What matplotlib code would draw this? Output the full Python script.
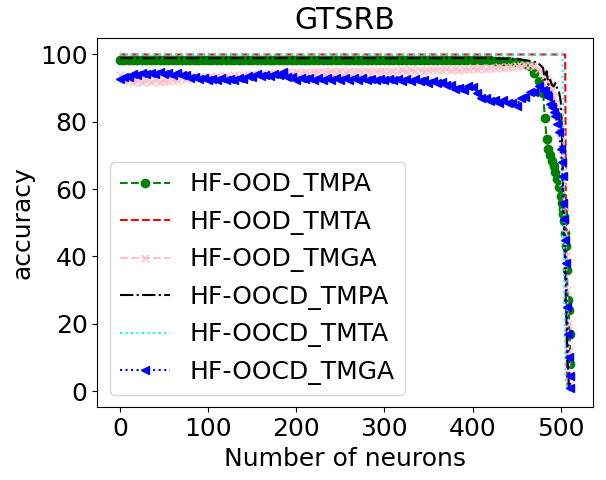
import numpy as np
import matplotlib
matplotlib.use('Agg')
import matplotlib.pyplot as plt

plt.rcParams['font.size'] = 18

# neurons: every 5 up to 475, every 2 up to 498, then every neuron to 511
neurons = list(range(0, 480, 5)) + list(range(480, 500, 2)) + list(range(500, 512))

ood_tmpa = [
    98.5, 98.4, 98.4, 98.5, 98.4, 98.4, 98.4, 98.5, 98.4, 98.4,
    98.4, 98.5, 98.4, 98.4, 98.4, 98.5, 98.4, 98.4, 98.4, 98.4,
    98.5, 98.4, 98.4, 98.4, 98.5, 98.4, 98.4, 98.4, 98.4, 98.5,
    98.4, 98.4, 98.4, 98.5, 98.4, 98.4, 98.4, 98.4, 98.5, 98.4,
    98.4, 98.4, 98.5, 98.4, 98.4, 98.4, 98.4, 98.5, 98.4, 98.4,
    98.4, 98.5, 98.4, 98.4, 98.4, 98.4, 98.5, 98.4, 98.4, 98.4,
    98.4, 98.4, 98.5, 98.4, 98.4, 98.4, 98.4, 98.4, 98.5, 98.4,
    98.4, 98.4, 98.4, 98.4, 98.4, 98.5, 98.4, 98.4, 98.4, 98.4,
    98.4, 98.4, 98.3, 98.3, 98.3, 98.2, 98.2, 98.1, 98.0, 97.9,
    97.8, 97.6, 97.3, 96.5, 94.5, 92.0,
    88.5, 81.0, 75.0, 72.0, 70.0, 68.5, 67.0, 65.0, 63.0, 60.5,
    58.0, 56.0, 54.0, 52.5, 50.5, 47.0, 43.0, 36.0, 27.0, 24.0, 17.0, 8.0,
]

ood_tmta = [100.0] * 106 + [
    100.0, 100.0, 100.0, 100.0, 100.0, 100.0, 50.0, 5.0, 1.0, 0.5, 0.3, 0.2,
]

ood_tmga = [
    94.0, 92.7, 92.3, 91.9, 92.2, 91.9, 92.2, 91.9, 92.3, 91.9,
    92.2, 92.0, 92.5, 92.3, 92.9, 92.6, 93.2, 92.9, 93.3, 93.1,
    93.4, 93.2, 93.6, 93.3, 93.7, 93.4, 93.8, 93.6, 94.0, 93.8,
    94.1, 94.0, 94.3, 94.1, 94.4, 94.3, 94.6, 94.4, 94.7, 94.5,
    94.7, 94.6, 94.8, 94.6, 94.9, 94.7, 94.9, 94.7, 95.0, 94.8,
    95.0, 94.8, 95.0, 94.9, 95.1, 94.9, 95.1, 94.9, 95.1, 95.0,
    95.2, 95.0, 95.2, 95.0, 95.3, 95.1, 95.3, 95.2, 95.4, 95.2,
    95.5, 95.3, 95.5, 95.4, 95.6, 95.4, 95.7, 95.5, 95.8, 95.6,
    95.9, 95.7, 96.0, 95.8, 96.1, 95.9, 96.2, 96.1, 96.4, 96.3,
    96.6, 96.5, 96.9, 96.8, 96.6, 95.8,
    94.5, 93.8, 93.0, 92.0, 90.8, 89.5, 87.5, 85.5, 83.5, 80.5,
    76.0, 72.0, 67.0, 62.0, 55.0, 47.0, 40.0, 30.0, 20.0, 12.0, 5.0, 2.0,
]

oocd_tmpa = [
    98.9, 98.9, 98.9, 98.9, 98.9, 98.9, 98.9, 98.9, 98.9, 98.9,
    98.9, 98.9, 98.9, 98.9, 98.9, 98.9, 98.9, 98.9, 98.9, 98.9,
    98.9, 98.9, 98.9, 98.9, 98.9, 98.9, 98.9, 98.9, 98.9, 98.9,
    98.9, 98.9, 98.9, 98.9, 98.9, 98.9, 98.9, 98.9, 98.9, 98.9,
    98.9, 98.9, 98.9, 98.9, 98.9, 98.9, 98.9, 98.9, 98.9, 98.9,
    98.9, 98.9, 98.9, 98.9, 98.9, 98.9, 98.9, 98.9, 98.9, 98.9,
    98.9, 98.9, 98.9, 98.9, 98.9, 98.9, 98.9, 98.9, 98.9, 98.9,
    98.9, 98.9, 98.9, 98.9, 98.9, 98.9, 98.9, 98.9, 98.9, 98.9,
    98.9, 98.9, 98.9, 98.9, 98.8, 98.8, 98.8, 98.7, 98.7, 98.7,
    98.6, 98.5, 98.3, 98.1, 97.8, 97.3,
    96.0, 92.5, 95.0, 91.0, 92.5, 91.0, 90.5, 91.5, 90.0, 89.0,
    86.0, 80.0, 70.0, 55.0, 45.0, 35.0, 25.0, 15.0, 8.0, 3.0, 1.0, 0.5,
]

oocd_tmta = [100.0] * 106 + [
    100.0, 100.0, 100.0, 70.0, 30.0, 10.0, 3.0, 1.0, 0.5, 0.3, 0.2, 0.2,
]

oocd_tmga = [
    92.7, 93.4, 93.4, 94.2, 94.0, 94.6, 94.2, 94.6, 94.2, 94.7,
    94.1, 94.6, 94.0, 94.4, 93.8, 93.8, 93.1, 93.3, 92.6, 93.0,
    92.4, 92.8, 92.3, 92.9, 92.4, 92.8, 92.4, 93.0, 92.7, 93.6,
    93.4, 94.1, 93.5, 94.0, 93.6, 94.3, 94.0, 94.8, 93.3, 93.3,
    92.5, 93.1, 92.6, 93.0, 92.4, 93.1, 92.5, 92.9, 92.5, 93.1,
    92.4, 93.0, 92.5, 92.9, 92.3, 93.0, 92.3, 92.8, 92.4, 92.8,
    92.3, 92.8, 92.3, 92.7, 92.2, 92.6, 92.1, 92.6, 92.0, 92.3,
    91.6, 92.1, 91.4, 91.9, 91.0, 90.8, 89.7, 90.1, 89.5, 90.6,
    90.4, 88.5, 87.0, 87.1, 86.2, 86.6, 85.7, 86.4, 85.5, 85.6,
    84.8, 87.1, 87.5, 88.8, 89.0, 90.6,
    89.5, 89.3, 88.0, 87.4, 85.3, 84.4, 82.8, 81.6, 79.3, 77.1,
    72.0, 68.0, 64.0, 56.0, 51.0, 45.0, 38.0, 25.0, 17.0, 10.0, 4.5, 1.0,
]

fig = plt.figure(figsize=(6.06, 4.8), dpi=100)
plt.subplots_adjust(left=0.1606, right=0.9785, bottom=0.1515, top=0.9215)

plt.plot(neurons, ood_tmpa, '--', marker='o', color='green', label='HF-OOD_TMPA')
plt.plot(neurons, ood_tmta, '--', color='red', label='HF-OOD_TMTA')
plt.plot(neurons, ood_tmga, '--', marker='x', color='pink', label='HF-OOD_TMGA')
plt.plot(neurons, oocd_tmpa, '-.', color='black', label='HF-OOCD_TMPA')
plt.plot(neurons, oocd_tmta, ':', color='cyan', label='HF-OOCD_TMTA')
plt.plot(neurons, oocd_tmga, ':', marker='<', color='blue', label='HF-OOCD_TMGA')

plt.xlabel('Number of neurons')
plt.ylabel('accuracy')
plt.title('GTSRB')
plt.legend(loc='lower left')

plt.savefig('out.png', dpi=100)
